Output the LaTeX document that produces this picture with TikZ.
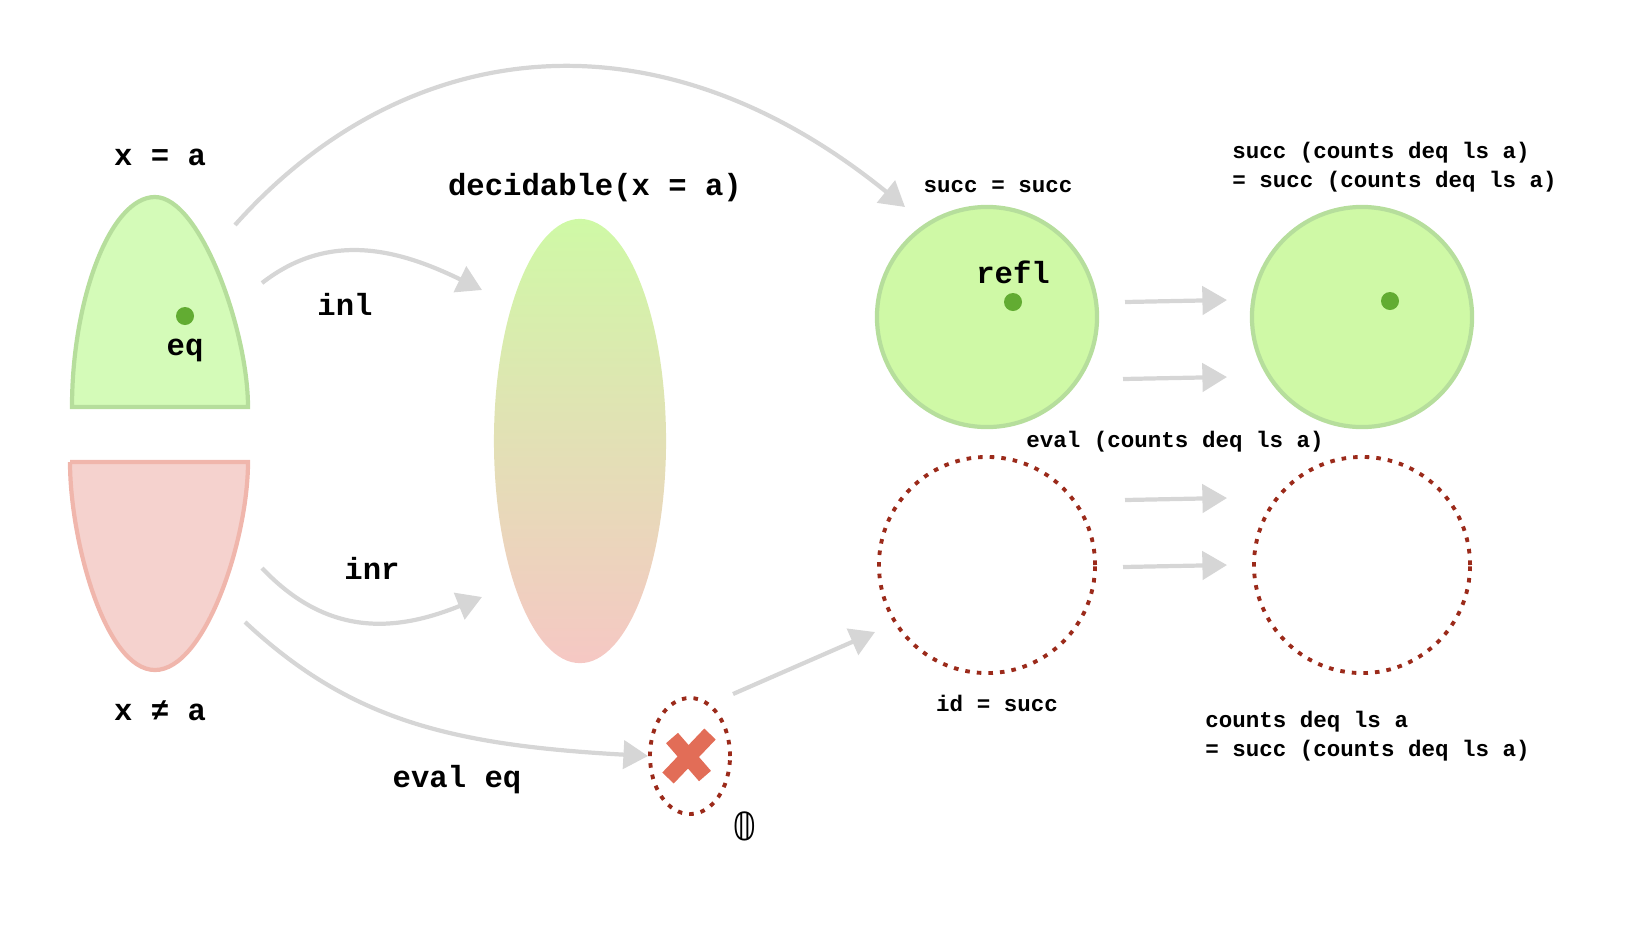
\documentclass[tikz,border=0pt]{standalone}
\usepackage{fontspec}
\setmonofont{Liberation Mono}
\newfontfamily\djv{DejaVu Sans}
\usetikzlibrary{arrows.meta,shapes.geometric}
\definecolor{lgreen}{HTML}{D4FBB8}
\definecolor{cgreen}{HTML}{CFF9A6}
\definecolor{dgreen}{HTML}{B6DE9C}
\definecolor{lred}{HTML}{F5D2CE}
\definecolor{dred}{HTML}{F0B6AC}
\definecolor{dotred}{HTML}{9B2A1A}
\definecolor{xred}{HTML}{E26D57}
\definecolor{arr}{HTML}{D6D6D6}
\definecolor{pt}{HTML}{62AC32}
\tikzset{
  arrow/.style={draw=arr,line width=1.2pt,-{Triangle[length=7pt,width=8pt]}},
  big/.style={font=\ttfamily\bfseries\fontsize{8.7}{10}\selectfont},
  small/.style={font=\ttfamily\bfseries\fontsize{6.4}{8.2}\selectfont,align=left},
  gcirc/.style={circle,minimum size=2.2cm,fill=cgreen,draw=dgreen,line width=1.2pt},
  dcirc/.style={circle,minimum size=2.16cm,draw=dotred,line width=1.1pt,dash pattern=on 1.3pt off 2pt}
}
\begin{document}
\begin{tikzpicture}[x=0.01cm,y=-0.01cm]
\useasboundingbox (0,0) rectangle (1634,936);

% the two halves
\filldraw[fill=lgreen,draw=dgreen,line width=1.2pt] (72,407) .. controls (72,300) and (110,197) .. (155,197)
  .. controls (200,197) and (248,330) .. (248,407) -- cycle;
\filldraw[fill=lred,draw=dred,line width=1.2pt] (70,462) -- (248,462) .. controls (248,540) and (205,670) .. (155,670)
  .. controls (105,670) and (70,540) .. (70,462);
\fill[pt] (185,316) circle (0.09cm);
\node[big] (eq) at (185,350) {eq};
\node[big] (xa) at (160,157) {x = a};
\node[big] (xna) at (160,711) {x ≠ a};

% decidable
\node[ellipse,minimum width=1.72cm,minimum height=4.44cm,top color=cgreen,bottom color=lred!95!red] (dec) at (580,441) {};
\node[big] (declab) at (595,188) {decidable(x = a)};

% empty
\node[ellipse,minimum width=0.8cm,minimum height=1.16cm,draw=dotred,line width=1.1pt,dash pattern=on 1.3pt off 2pt] (empty) at (690,756) {};
\draw[xred,line width=4.5pt] (672,738) -- (705,776) (710,734) -- (668,778);
\node[font=\djv\fontsize{11}{12}\selectfont] (zero) at (745,826) {𝟘};

% circles
\node[gcirc] (c1) at (987,317) {};
\node[gcirc] (c2) at (1362,317) {};
\node[dcirc] (c3) at (987,565) {};
\node[dcirc] (c4) at (1362,565) {};
\fill[pt] (1013,302) circle (0.09cm);
\fill[pt] (1390,301) circle (0.09cm);
\node[big] (refl) at (1013,272) {refl};

% arrows
\coordinate (a1) at (262,283);
\coordinate (a2) at (482,290);
\coordinate (b1) at (262,568);
\coordinate (b2) at (482,597);
\coordinate (t1) at (235,225);
\coordinate (t2) at (905,207);
\coordinate (e1) at (245,622);
\draw[arrow] (a1) .. controls (330,230) and (400,250) .. (a2);
\draw[arrow] (b1) .. controls (330,640) and (400,630) .. (b2);
\draw[arrow] (t1) .. controls (400,40) and (650,0) .. (t2);
\draw[arrow] (e1) .. controls (350,720) and (450,745) .. (empty.west);
\draw[arrow] (733,694) -- (875,632);
\draw[arrow] (1125,302) -- (1227,300);
\draw[arrow] (1123,379) -- (1227,377);
\draw[arrow] (1125,500) -- (1227,498);
\draw[arrow] (1123,567) -- (1227,565);
\node[big] (inl) at (345,304) {inl};
\node[big] (inr) at (372,568) {inr};
\node[big] (evq) at (457,780) {eval eq};

% small labels
\node[small] (l1) at (998,187) {succ = succ};
\node[small,anchor=west] (l2) at (1220,167) {succ (counts deq ls a)\\= succ (counts deq ls a)};
\node[small] (l3) at (1175,442) {eval (counts deq ls a)};
\node[small] (l4) at (997,703) {id = succ};
\node[small,anchor=west] (l5) at (1193,736) {counts deq ls a\\= succ (counts deq ls a)};
\end{tikzpicture}
\end{document}
